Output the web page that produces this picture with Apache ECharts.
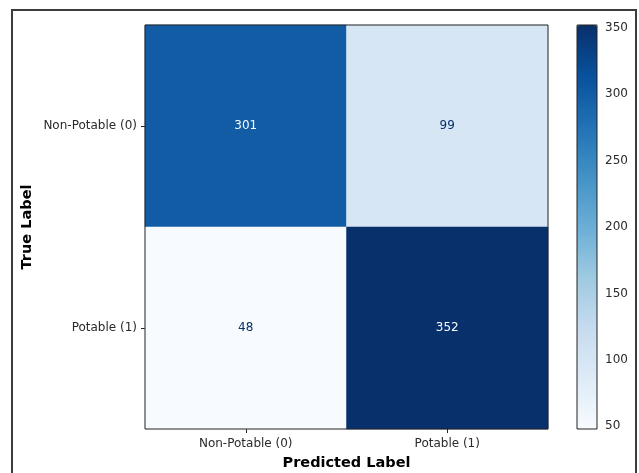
<!DOCTYPE html>
<html>
<head>
<meta charset="utf-8">
<script src="https://cdn.jsdelivr.net/npm/echarts@6/dist/echarts.min.js"></script>
<style>
html,body{margin:0;padding:0;background:#fff;}
#chart{width:639px;height:473px;}
</style>
</head>
<body>
<div id="chart"></div>
<script>
const predictedCategories = ['Non-Potable (0)', 'Potable (1)'];
const trueCategories = ['Non-Potable (0)', 'Potable (1)'];
// [predictedIndex, trueIndex, count]
const cellValues = [
  [0, 0, 301],
  [1, 0, 99],
  [0, 1, 48],
  [1, 1, 352]
];
const colorbarTicks = [50, 100, 150, 200, 250, 300, 350];
const blues = ['#f7fbff','#deebf7','#c6dbef','#9ecae1','#6baed6','#4292c6','#2171b5','#08519c','#08306b'];

const counts = cellValues.map(c => c[2]);
const vMin = Math.min(...counts);
const vMax = Math.max(...counts);
const thresh = (vMin + vMax) / 2;

const font = 'DejaVu Sans';
const tickFont = 12;
const chart = echarts.init(document.getElementById('chart'), null, {renderer: 'canvas'});

chart.setOption({
  backgroundColor: '#fff',
  animation: false,
  textStyle: {fontFamily: font},
  graphic: [{
    type: 'rect',
    shape: {x: 12, y: 10, width: 624, height: 480},
    style: {fill: 'none', stroke: '#3c3c3c', lineWidth: 2},
    silent: true,
    z: 100
  }],
  grid: [
    {left: 145, top: 25, width: 403, height: 404, show: true, borderColor: '#222', borderWidth: 1, backgroundColor: 'transparent', z: 10, containLabel: false, outerBoundsMode: 'none'},
    {left: 577, top: 25, width: 20, height: 404, show: true, borderColor: '#222', borderWidth: 1, backgroundColor: 'transparent', z: 10, containLabel: false, outerBoundsMode: 'none'}
  ],
  xAxis: [
    {
      type: 'category', gridIndex: 0, data: predictedCategories,
      name: 'Predicted Label', nameLocation: 'middle', nameGap: 27, nameMoveOverlap: false,
      nameTextStyle: {fontFamily: font, fontWeight: 'bold', fontSize: 14.5, color: '#000'},
      axisLine: {show: false},
      axisTick: {show: true, alignWithLabel: true, length: 4, lineStyle: {color: '#222'}},
      axisLabel: {fontFamily: font, fontSize: tickFont, color: '#2a2a2a', margin: 9},
      splitLine: {show: false}
    },
    {
      type: 'value', gridIndex: 1, show: false, min: 0, max: 1
    }
  ],
  yAxis: [
    {
      type: 'category', gridIndex: 0, data: trueCategories, inverse: true,
      name: 'True Label', nameLocation: 'middle', nameGap: 110, nameRotate: 90, nameMoveOverlap: false,
      nameTextStyle: {fontFamily: font, fontWeight: 'bold', fontSize: 14.5, color: '#000'},
      axisLine: {show: false},
      axisTick: {show: true, alignWithLabel: true, length: 4, lineStyle: {color: '#222'}},
      axisLabel: {fontFamily: font, fontSize: tickFont, color: '#2a2a2a', margin: 8},
      splitLine: {show: false}
    },
    {
      type: 'value', gridIndex: 1, position: 'right', min: vMin, max: vMax,
      axisLine: {show: false},
      axisTick: {show: true, length: 4, customValues: colorbarTicks, lineStyle: {color: '#222'}},
      axisLabel: {fontFamily: font, fontSize: tickFont, color: '#2a2a2a', margin: 8, customValues: colorbarTicks},
      splitLine: {show: false}
    }
  ],
  visualMap: {
    type: 'continuous',
    min: vMin, max: vMax,
    seriesIndex: 0,
    inRange: {color: blues},
    orient: 'vertical',
    left: 577, top: 25,
    itemWidth: 20, itemHeight: 404,
    padding: 0,
    calculable: false,
    text: null,
    showLabel: false,
    hoverLink: false
  },
  series: [{
    type: 'heatmap',
    xAxisIndex: 0, yAxisIndex: 0,
    data: cellValues.map(c => ({
      value: c,
      label: {color: c[2] > thresh ? '#f7fbff' : '#08306b'}
    })),
    itemStyle: {borderWidth: 0},
    label: {
      show: true,
      fontFamily: font,
      fontSize: tickFont,
      formatter: p => String(p.value[2])
    },
    emphasis: {disabled: true}
  }]
});
</script>
</body>
</html>
